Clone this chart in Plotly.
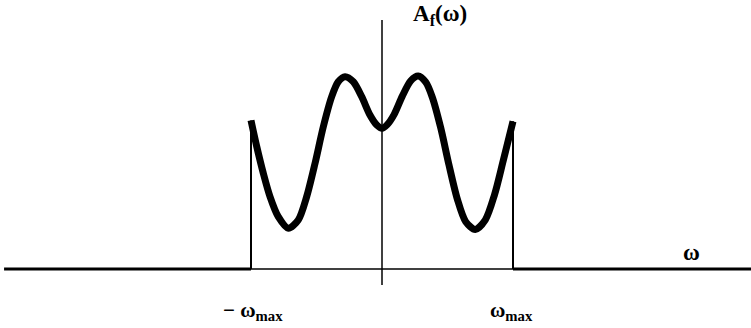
import plotly.graph_objects as go

# Band-limited amplitude spectrum A_f(omega), omega in units of omega_max
omega = [-1.00, -0.956, -0.906, -0.855, -0.792, -0.715, -0.639, -0.575, -0.511,
         -0.448, -0.384, -0.334, -0.282, -0.219, -0.155, -0.092, -0.040, 0.00,
         0.040, 0.092, 0.155, 0.219, 0.276, 0.334, 0.384, 0.448, 0.511, 0.575,
         0.639, 0.712, 0.789, 0.859, 0.925, 1.00]
amp = [0.77, 0.634, 0.496, 0.375, 0.271, 0.211, 0.254, 0.375, 0.548,
       0.737, 0.893, 0.970, 0.996, 0.970, 0.893, 0.798, 0.746, 0.729,
       0.748, 0.800, 0.896, 0.975, 1.000, 0.968, 0.890, 0.732, 0.540, 0.362,
       0.245, 0.205, 0.255, 0.385, 0.560, 0.765]

# Axis extents (same units)
x_min, x_max = -2.885, 2.817
axis_top, axis_bottom = 1.29, -0.083

BLACK = "#000000"
fig = go.Figure()

# thin frequency axis inside the band and vertical amplitude axis
fig.add_trace(go.Scatter(x=[-1, 1], y=[0, 0], mode="lines",
                         line=dict(color=BLACK, width=1.5), hoverinfo="skip"))
fig.add_trace(go.Scatter(x=[0, 0], y=[axis_bottom, axis_top], mode="lines",
                         line=dict(color=BLACK, width=1.5), hoverinfo="skip"))

# band edges
for edge, val in ((-1, amp[0]), (1, amp[-1])):
    fig.add_trace(go.Scatter(x=[edge, edge], y=[0, val], mode="lines",
                             line=dict(color=BLACK, width=2), hoverinfo="skip"))

# zero spectrum outside the band
fig.add_trace(go.Scatter(x=[x_min, -1], y=[0, 0], mode="lines",
                         line=dict(color=BLACK, width=3.2), hoverinfo="skip"))
fig.add_trace(go.Scatter(x=[1, x_max], y=[0, 0], mode="lines",
                         line=dict(color=BLACK, width=3.2), hoverinfo="skip"))

# spectrum inside the band
fig.add_trace(go.Scatter(x=omega, y=amp, mode="lines",
                         line=dict(color=BLACK, width=7, shape="spline", smoothing=0.8),
                         hoverinfo="skip"))

serif = "Liberation Serif, Times New Roman, serif"
labels = [
    ("<b>A<sub>f</sub>(ω)</b>", 0.443, 1.316, 23),
    ("<b>− ω<sub>max</sub></b>", -0.985, -0.215, 21),
    ("<b>ω<sub>max</sub></b>", 0.99, -0.215, 21),
    ("<b>ω</b>", 2.366, 0.088, 23),
]
for text, lx, ly, size in labels:
    fig.add_annotation(x=lx, y=ly, xref="x", yref="y", text=text, showarrow=False,
                       font=dict(family=serif, size=size, color=BLACK),
                       xanchor="center", yanchor="middle")

fig.update_layout(
    width=751, height=328,
    margin=dict(l=0, r=0, t=0, b=0),
    paper_bgcolor="white", plot_bgcolor="white",
    showlegend=False,
    xaxis=dict(range=[-382 / 131, (751 - 382) / 131], visible=False, fixedrange=True),
    yaxis=dict(range=[-(328 - 269) / 193, 269 / 193], visible=False, fixedrange=True),
)

fig.write_html("out.html")
